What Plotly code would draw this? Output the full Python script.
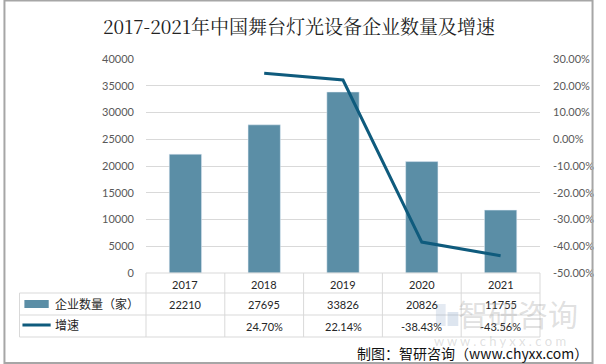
import plotly.graph_objects as go

years = ["2017", "2018", "2019", "2020", "2021"]
companies = [22210, 27695, 33826, 20826, 11755]
growth = [None, 0.2470, 0.2214, -0.3843, -0.4356]
growth_labels = ["", "24.70%", "22.14%", "-38.43%", "-43.56%"]
y_ticks = [0, 5000, 10000, 15000, 20000, 25000, 30000, 35000, 40000]
y2_ticks = [-0.5, -0.4, -0.3, -0.2, -0.1, 0.0, 0.1, 0.2, 0.3]
y2_tick_text = ["-50.00%", "-40.00%", "-30.00%", "-20.00%", "-10.00%", "0.00%", "10.00%", "20.00%", "30.00%"]

W, H = 606, 364
L, R, T, B = 146, 551, 59, 273
BAR_C = "#5b8ea6"
LINE_C = "#0f5b7d"
GRID_C = "#d9d9d9"
TXT_FONT = "Lato, Noto Sans CJK SC, sans-serif"

xs = list(range(len(years)))


def px(x):
    return (x - L) / (R - L)


def py(y):
    return (B - y) / (B - T)


fig = go.Figure()
fig.add_trace(go.Bar(x=xs, y=companies, marker_color=BAR_C, width=0.41,
                     name="企业数量（家）", showlegend=False))
fig.add_trace(go.Scatter(x=xs, y=growth, yaxis="y2", mode="lines",
                         line=dict(color=LINE_C, width=3), name="增速",
                         showlegend=False, connectgaps=False))

shapes = []
line_style = dict(color=GRID_C, width=1)
for yy in [293, 315, 337]:
    shapes.append(dict(type="line", xref="paper", yref="paper",
                       x0=px(16), x1=px(R), y0=py(yy), y1=py(yy), line=line_style))
shapes.append(dict(type="line", xref="paper", yref="paper",
                   x0=0, x1=1, y0=0, y1=0, line=line_style))
shapes.append(dict(type="line", xref="paper", yref="paper",
                   x0=px(16), x1=px(16), y0=py(293), y1=py(337), line=line_style))
n = len(years)
for k in range(n + 1):
    shapes.append(dict(type="line", xref="paper", yref="paper",
                       x0=k / n, x1=k / n, y0=py(273), y1=py(337), line=line_style))
shapes.append(dict(type="rect", xref="paper", yref="paper",
                   x0=px(21), x1=px(46), y0=py(300), y1=py(308),
                   fillcolor=BAR_C, line=dict(width=0)))
shapes.append(dict(type="line", xref="paper", yref="paper",
                   x0=px(19), x1=px(48), y0=py(325), y1=py(325),
                   line=dict(color=LINE_C, width=3)))
shapes.append(dict(type="rect", xref="paper", yref="paper",
                   x0=px(0.5), x1=px(605), y0=py(0.5), y1=py(363),
                   line=dict(color="#a6a6a6", width=2)))
# watermark logo blocks
shapes.append(dict(type="rect", xref="paper", yref="paper",
                   x0=px(444), x1=px(454), y0=py(304), y1=py(326),
                   fillcolor="rgba(120,150,190,0.2)", line=dict(width=0)))
shapes.append(dict(type="rect", xref="paper", yref="paper",
                   x0=px(456), x1=px(467), y0=py(312), y1=py(326),
                   fillcolor="rgba(120,150,190,0.25)", line=dict(width=0)))


def ann(x, y, text, size, color="#262626", family=TXT_FONT, xref="paper", xanchor="center"):
    return dict(x=x, xref=xref, y=y, yref="paper", text=text, showarrow=False,
                xanchor=xanchor, yanchor="middle",
                font=dict(size=size, color=color, family=family))


annotations = []
for i in range(n):
    annotations.append(ann(xs[i], py(284), years[i], 11, xref="x"))
    annotations.append(ann(xs[i], py(304), str(companies[i]), 11, xref="x"))
    if growth_labels[i]:
        annotations.append(ann(xs[i], py(326), growth_labels[i], 11, xref="x"))
annotations.append(ann(px(50), py(304), "企业数量（家）", 12, xanchor="left"))
annotations.append(ann(px(50), py(325), "增速", 12, xanchor="left"))
annotations.append(ann(px(303), py(25), "2017-2021年中国舞台灯光设备企业数量及增速", 19,
                       color="#222222",
                       family="Noto Serif CJK SC, Liberation Serif, Noto Sans CJK SC, serif"))
annotations.append(ann(px(528), py(313), "智研咨询", 30, color="rgba(150,150,150,0.3)",
                       family="Noto Sans CJK SC"))
annotations.append(ann(px(510), py(341), "w w w . c h y x x . c o m", 13,
                       color="rgba(150,150,150,0.3)", family="Lato"))
annotations.append(ann(px(602), py(353), "制图：智研咨询（www.chyxx.com）", 14,
                       color="#111111", family="Noto Sans CJK SC", xanchor="right"))

fig.update_layout(
    width=W, height=H,
    margin=dict(l=L, r=W - R, t=T, b=H - B, pad=0),
    paper_bgcolor="white", plot_bgcolor="white",
    xaxis=dict(range=[-0.5, n - 0.5], showticklabels=False, showgrid=False, zeroline=False,
               showline=False, ticks="", fixedrange=True),
    yaxis=dict(range=[0, 40000], tickvals=y_ticks, ticktext=[str(v) for v in y_ticks],
               showgrid=True, gridcolor=GRID_C, gridwidth=1, zeroline=False, showline=False,
               ticks="", ticklabelstandoff=11,
               tickfont=dict(size=11, color="#595959", family=TXT_FONT)),
    yaxis2=dict(range=[-0.5, 0.3], overlaying="y", side="right", tickvals=y2_ticks,
                ticktext=y2_tick_text, showgrid=False, zeroline=False, showline=False,
                ticks="", ticklabelstandoff=12,
                tickfont=dict(size=11, color="#595959", family=TXT_FONT)),
    shapes=shapes,
    annotations=annotations,
)

fig.write_html("out.html", config={"displayModeBar": False},
               post_script="document.body.style.margin='0';document.body.style.overflow='hidden';")
